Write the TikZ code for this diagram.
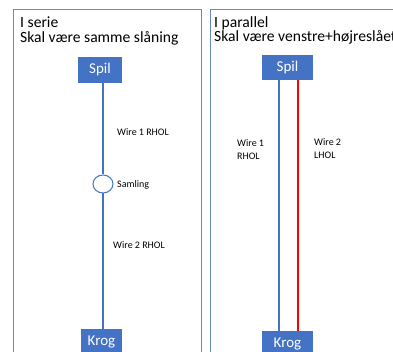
\documentclass[tikz,border=0pt]{standalone}
\usepackage{fontspec}
\setmainfont{Carlito}
\usetikzlibrary{shapes.geometric}
\definecolor{offblue}{RGB}{68,114,196}
\definecolor{framec}{RGB}{105,135,195}
\tikzset{
  frame/.style={draw=framec, line width=1pt},
  box/.style={fill=offblue, text=white, inner sep=0pt, font=\fontsize{15}{15}\selectfont},
  title/.style={anchor=base west, inner sep=0pt, font=\fontsize{15.6}{15}\selectfont},
  lbl/.style={anchor=base west, inner sep=0pt, font=\fontsize{10}{13}\selectfont, align=left},
  bluewire/.style={draw=offblue, line width=2pt},
  redwire/.style={draw=red, line width=2pt},
  joint/.style={ellipse, draw=offblue, line width=1pt, fill=white, minimum width=20pt, minimum height=18pt, inner sep=0pt}
}
\begin{document}
\begin{tikzpicture}[x=1pt,y=-1pt]
\useasboundingbox (0,0) rectangle (393,352);
\draw[frame] (13,10) rectangle (201,362);
\draw[frame] (210,10) rectangle (405,362);
% left panel
\node[title] (t1) at (20,28) {I serie};
\node[title] (t2) at (20,42.5) {Skal være samme slåning};
\node[box, minimum width=44pt, minimum height=26pt] (spilA) at (100,70) {Spil};
\node[box, minimum width=41pt, minimum height=26pt] (krogA) at (101.5,342) {Krog};
\node[joint] (samling) at (103,184) {};
\draw[bluewire] ([xshift=3pt]spilA.south) -- (samling.north);
\draw[bluewire] (samling.south) -- ([xshift=1.5pt]krogA.north);
\node[lbl] (w1) at (117,135.5) {Wire 1 RHOL};
\node[lbl] (sam) at (117,188) {Samling};
\node[lbl] (w2) at (113,249) {Wire 2 RHOL};
% right panel
\node[title] (t3) at (214,27.5) {I parallel};
\node[title] (t4) at (214,41.5) {Skal være venstre+højreslået};
\node[box, minimum width=51pt, minimum height=25pt] (spilB) at (287.5,67.5) {Spil};
\node[box, minimum width=51pt, minimum height=25pt] (krogB) at (287.5,343.5) {Krog};
\draw[bluewire] ([xshift=-8.5pt]spilB.south) -- ([xshift=-8.5pt]krogB.north);
\draw[redwire] ([xshift=10.5pt]spilB.south) -- ([xshift=10.5pt]krogB.north);
\node[lbl] (w1b) at (237,160) {Wire 1\\RHOL};
\node[lbl] (w2b) at (314,159) {Wire 2\\LHOL};
\end{tikzpicture}
\end{document}
